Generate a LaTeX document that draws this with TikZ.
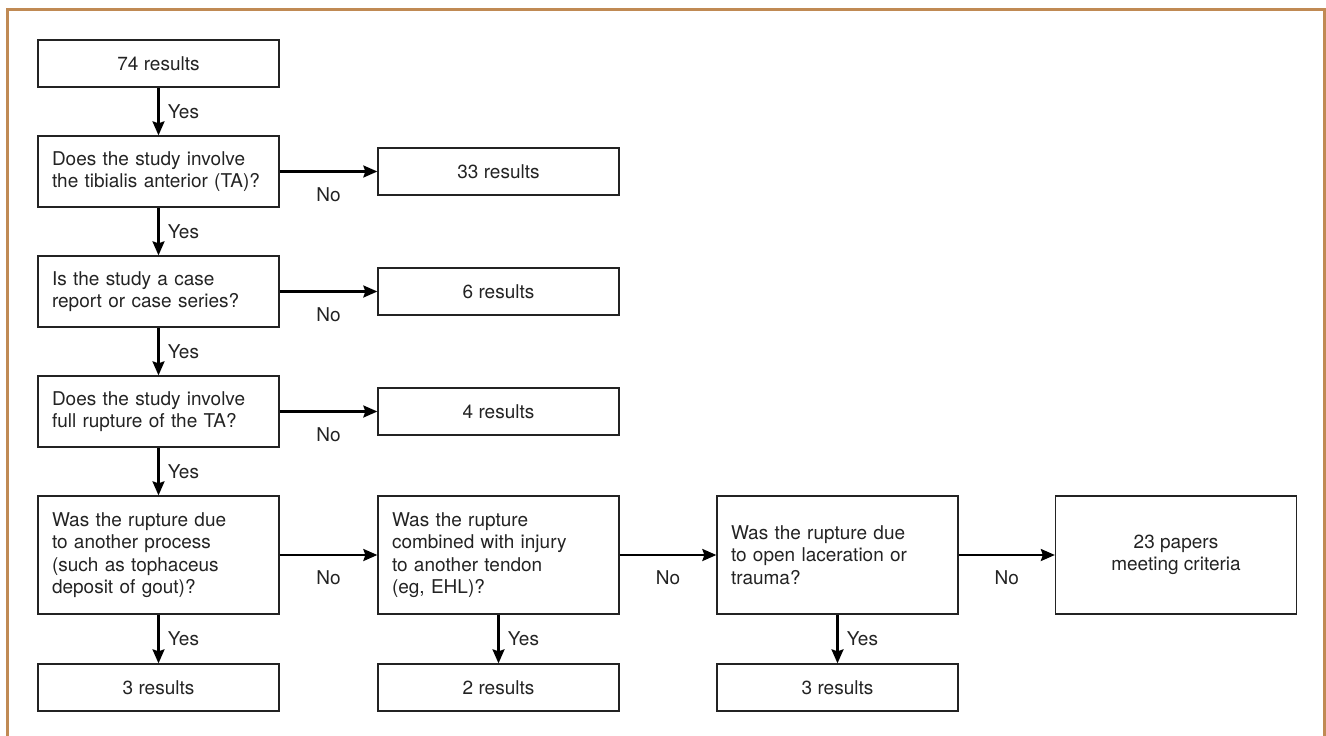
\documentclass[tikz,border=0pt]{standalone}
\usepackage{fontspec}
\setmainfont{TeX Gyre Heros}
\usepackage{tikz}
\usetikzlibrary{arrows.meta}
\definecolor{framebrown}{RGB}{192,138,84}
\definecolor{inkgray}{RGB}{35,35,35}
\tikzset{
  box/.style={draw=inkgray, line width=1.3pt, minimum width=241pt, inner sep=0pt,
    font=\fontsize{19}{22.4}\selectfont, text=inkgray},
  smallbox/.style={box, minimum height=47pt, align=center},
  askbox/.style={box, minimum height=71pt, text width=213pt, align=left},
  tallbox/.style={box, minimum height=118pt, text width=213pt, align=left},
  flow/.style={line width=2.3pt, -{Stealth[length=14pt,width=12pt,inset=2pt]}},
  yes/.style={midway, anchor=west, xshift=5pt, font=\fontsize{19}{22}\selectfont, text=inkgray},
  no/.style={midway, yshift=-23pt, font=\fontsize{19}{22}\selectfont, text=inkgray}
}
\begin{document}
\begin{tikzpicture}[x=1pt,y=-1pt]
\useasboundingbox (0,0) rectangle (1326,736);
\draw[framebrown, line width=3pt] (7,736) -- (7,9) -- (1324,9) -- (1324,736);

\node[smallbox] (start) at (158.5,63.5) {74 results};
\node[askbox] (q1) at (158.5,171.5) {Does the study involve\\the tibialis anterior (TA)?};
\node[askbox] (q2) at (158.5,291.5) {Is the study a case\\report or case series?};
\node[askbox] (q3) at (158.5,411.5) {Does the study involve\\full rupture of the TA?};
\node[tallbox] (q4) at (158.5,555) {Was the rupture due\\to another process\\(such as tophaceus\\deposit of gout)?};
\node[tallbox] (q5) at (498.5,555) {Was the rupture\\combined with injury\\to another tendon\\(eg, EHL)?};
\node[tallbox] (q6) at (837.5,555) {Was the rupture due\\to open laceration or\\trauma?};
\node[box, minimum height=118pt, align=center] (papers) at (1176,555) {23 papers\\meeting criteria};

\node[smallbox] (out1) at (498.5,171.5) {33 results};
\node[smallbox] (out2) at (498.5,291.5) {6 results};
\node[smallbox] (out3) at (498.5,411.5) {4 results};
\node[smallbox] (out4) at (158.5,687.5) {3 results};
\node[smallbox] (out5) at (498.5,687.5) {2 results};
\node[smallbox] (out6) at (837.5,687.5) {3 results};

\draw[flow] (start) -- (q1) node[yes] {Yes};
\draw[flow] (q1) -- (q2) node[yes] {Yes};
\draw[flow] (q2) -- (q3) node[yes] {Yes};
\draw[flow] (q3) -- (q4) node[yes] {Yes};
\draw[flow] (q4) -- (out4) node[yes] {Yes};
\draw[flow] (q5) -- (out5) node[yes] {Yes};
\draw[flow] (q6) -- (out6) node[yes] {Yes};

\draw[flow] (q1) -- (out1) node[no] {No};
\draw[flow] (q2) -- (out2) node[no] {No};
\draw[flow] (q3) -- (out3) node[no] {No};
\draw[flow] (q4) -- (q5) node[no] {No};
\draw[flow] (q5) -- (q6) node[no] {No};
\draw[flow] (q6) -- (papers) node[no] {No};
\end{tikzpicture}
\end{document}
